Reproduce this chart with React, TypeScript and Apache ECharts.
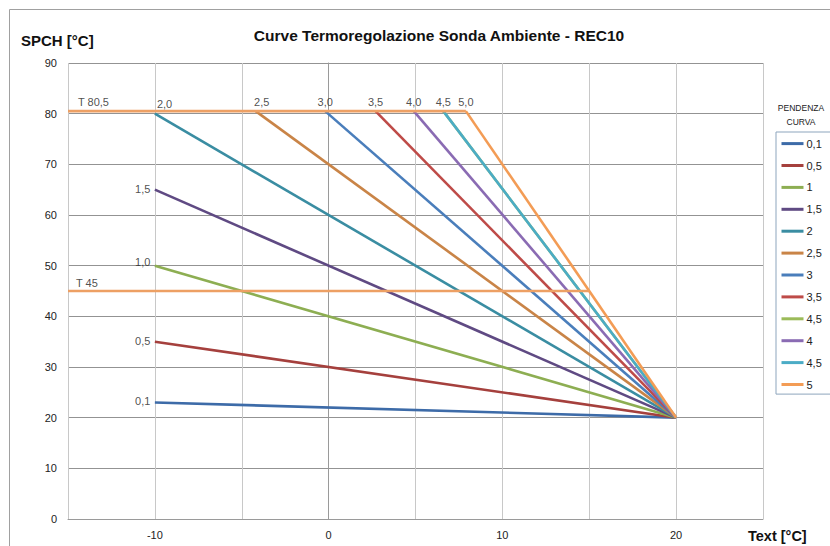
import React, { useEffect, useRef } from "react";
import * as echarts from "echarts";

// Curve names (legend) and their start points; every curve ends at (20, 20)
const curveNames = ["0,1", "0,5", "1", "1,5", "2", "2,5", "3", "3,5", "4,5 ", "4", "4,5", "5"];
const curveLabels = ["0,1", "0,5", "1,0", "1,5", "2,0", "2,5", "3,0", "3,5", "", "4,0", "4,5", "5,0"];
const curveStartText = [-10, -10, -10, -10, -10, -4.2, -0.2, 2.7, 6.6, 4.9, 6.6, 7.9];
const curveStartSpch = [23, 35, 50, 65, 80, 80.5, 80.5, 80.5, 80.5, 80.5, 80.5, 80.5];
const curveEndText = 20;
const curveEndSpch = 20;
const curveColors = ["#3D6BA8", "#A5403D", "#8DAE52", "#5F4A83", "#3A8DA2", "#C98447", "#4A7EBB", "#BE4B48", "#9BBB59", "#8A6BB3", "#4BACC6", "#F39C55"];

// Limit lines
const limitNames = ["T 80,5", "T 45"];
const limitStartText = [-15, -15];
const limitEndText = [7.9, 15];
const limitSpch = [80.5, 45];
const limitColor = "#EDA064";

// Axis ranges / ticks
const xMin = -15, xMax = 25, xStep = 5;
const yMin = 0, yMax = 90, yStep = 10;

const FONT = "'Liberation Sans', Arial, sans-serif";

export default function App() {
  const ref = useRef<HTMLDivElement>(null);
  useEffect(() => {
    if (!ref.current) return;
    const chart = echarts.init(ref.current, null, { renderer: "svg" });

    const curveSeries = curveNames.map((name, i) => ({
      name,
      type: "line",
      symbol: "none",
      z: i === 8 ? 1 : 2,
      lineStyle: { width: 2.6, color: curveColors[i] },
      itemStyle: { color: curveColors[i] },
      data: [
        [curveStartText[i], curveStartSpch[i]],
        [curveEndText, curveEndSpch],
      ],
    }));

    const limitSeries = limitNames.map((name, i) => ({
      name: "limit" + i,
      type: "line",
      symbol: "none",
      z: 3,
      lineStyle: { width: 2.6, color: limitColor },
      itemStyle: { color: limitColor },
      data: [
        [limitStartText[i], limitSpch[i]],
        [limitEndText[i], limitSpch[i]],
      ],
    }));

    const labelData: any[] = [];
    curveLabels.forEach((txt, i) => {
      if (!txt) return;
      let label: any;
      if (i <= 3) {
        label = { position: "left", distance: 4, offset: [0, i === 2 ? -4 : -1] };
      } else if (i === 4) {
        label = { position: "top", distance: 4, align: "left", offset: [2, 0] };
      } else {
        label = { position: "top", distance: 3, offset: [i === 5 ? 6 : 0, 0] };
      }
      labelData.push({
        value: [curveStartText[i], curveStartSpch[i]],
        label: { show: true, formatter: txt, ...label },
      });
    });
    limitNames.forEach((txt, i) => {
      labelData.push({
        value: [limitStartText[i], limitSpch[i]],
        label: { show: true, formatter: txt, position: "top", distance: i === 0 ? 3 : 2, align: "left", offset: [i === 0 ? 10 : 8, 0] },
      });
    });

    const labelSeries = {
      name: "labels",
      type: "scatter",
      symbol: "circle",
      symbolSize: 1,
      z: 5,
      itemStyle: { color: "rgba(0,0,0,0)" },
      label: { color: "#222", fontSize: 11, fontFamily: FONT },
      data: labelData,
    };

    chart.setOption({
      animation: false,
      textStyle: { fontFamily: FONT },
      grid: { left: 68, right: 67, top: 63, bottom: 27 },
      xAxis: {
        type: "value",
        min: xMin,
        max: xMax,
        interval: xStep,
        axisLine: { show: true, lineStyle: { color: "#9A9A9A" } },
        axisTick: { show: false },
        splitLine: { show: true, lineStyle: { color: "#C8C8C8" } },
        axisLabel: {
          color: "#222",
          fontSize: 11,
          margin: 10,
          fontFamily: FONT,
          formatter: (v: number) => (v % 10 === 0 && v !== xMin && v !== xMax ? String(v) : ""),
        },
      },
      yAxis: {
        type: "value",
        min: yMin,
        max: yMax,
        interval: yStep,
        axisLine: { show: true, lineStyle: { color: "#9A9A9A" } },
        axisTick: { show: false },
        splitLine: { show: true, lineStyle: { color: "#939393" } },
        axisLabel: { color: "#222", fontSize: 11, margin: 11, fontFamily: FONT },
      },
      legend: {
        data: curveNames,
        orient: "vertical",
        left: 776,
        top: 132,
        padding: [6, 8, 4, 4],
        itemWidth: 22,
        itemHeight: 14,
        itemGap: 10.7,
        borderColor: "#8DA5BD",
        borderWidth: 1,
        selectedMode: false,
        textStyle: { color: "#222", fontSize: 11, fontFamily: FONT, padding: [0, 0, 0, -2] },
        itemStyle: { opacity: 0 },
        lineStyle: { width: 3 },
      },
      graphic: [
        {
          type: "rect",
          silent: true,
          shape: { x: 9.5, y: 9.5, width: 900, height: 700 },
          style: { fill: "none", stroke: "#A0A0A0", lineWidth: 1 },
        },
        {
          type: "text",
          x: 439,
          y: 35,
          style: {
            text: "Curve Termoregolazione Sonda Ambiente - REC10",
            font: "bold 15.5px " + FONT,
            fill: "#111",
            textAlign: "center",
            textVerticalAlign: "middle",
          },
        },
        {
          type: "text",
          x: 21,
          y: 40,
          style: { text: "SPCH [°C]", font: "bold 15px " + FONT, fill: "#111", textVerticalAlign: "middle" },
        },
        {
          type: "text",
          x: 748,
          y: 536,
          style: { text: "Text [°C]", font: "bold 14.5px " + FONT, fill: "#111", textVerticalAlign: "middle" },
        },
        {
          type: "text",
          x: 801,
          y: 108,
          style: { text: "PENDENZA", font: "8.5px " + FONT, fill: "#222", textAlign: "center", textVerticalAlign: "middle" },
        },
        {
          type: "text",
          x: 801,
          y: 122,
          style: { text: "CURVA", font: "8.5px " + FONT, fill: "#222", textAlign: "center", textVerticalAlign: "middle" },
        },
      ],
      series: [...curveSeries, ...limitSeries, labelSeries],
    });
    return () => chart.dispose();
  }, []);
  return (
    <div
      ref={ref}
      style={{ position: "absolute", left: 0, top: 0, width: 830, height: 546, background: "#fff" }}
    />
  );
}
